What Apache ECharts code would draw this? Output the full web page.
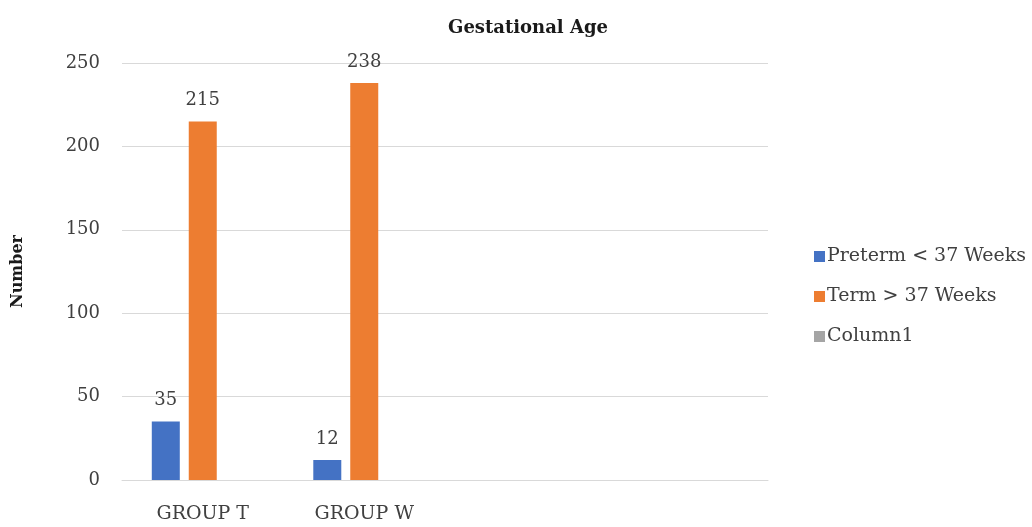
<!DOCTYPE html>
<html>
<head>
<meta charset="utf-8">
<script src="https://cdn.jsdelivr.net/npm/echarts@6/dist/echarts.min.js"></script>
<style>
  html, body { margin: 0; padding: 0; background: #fff; }
  #chart { width: 1032px; height: 527px; }
</style>
</head>
<body>
<div id="chart"></div>
<script>
// Gestational age counts per study group
const categories = ['GROUP T', 'GROUP W', '', ''];
const seriesNames = ['Preterm < 37 Weeks', 'Term > 37 Weeks', 'Column1'];
const pretermValues = [35, 12, null, null];
const termValues = [215, 238, null, null];
const column1Values = [null, null, null, null];
const yTicks = [0, 50, 100, 150, 200, 250];

const FONT = '"DejaVu Serif", "Liberation Serif", serif';
const TEXT = '#404040';
const colors = ['#4472C4', '#ED7D31', '#A5A5A5'];

const chart = echarts.init(document.getElementById('chart'));

const label = {
  show: true,
  position: 'top',
  distance: 12,
  color: TEXT,
  fontFamily: FONT,
  fontSize: 18
};

chart.setOption({
  animation: false,
  color: colors,
  title: {
    text: 'Gestational Age',
    left: 523,
    textAlign: 'center',
    top: 14,
    textStyle: { fontFamily: FONT, fontSize: 18, fontWeight: 'bold', color: '#1a1a1a' }
  },
  legend: {
    orient: 'vertical',
    left: 809,
    top: 242,
    icon: 'rect',
    itemWidth: 11,
    itemHeight: 11,
    itemGap: 21,
    textStyle: { fontFamily: FONT, fontSize: 19, color: TEXT, padding: [0, 0, 0, -3] },
    data: seriesNames
  },
  grid: { left: 122, right: 264, top: 63, bottom: 47, containLabel: false },
  xAxis: {
    type: 'category',
    data: categories,
    axisLine: { lineStyle: { color: '#D9D9D9', width: 1 } },
    axisTick: { show: false },
    axisLabel: { color: TEXT, fontFamily: FONT, fontSize: 19, margin: 25 }
  },
  yAxis: {
    type: 'value',
    min: yTicks[0],
    max: yTicks[yTicks.length - 1],
    interval: yTicks[1] - yTicks[0],
    name: 'Number',
    nameLocation: 'middle',
    nameGap: 96,
    nameTextStyle: { fontFamily: FONT, fontSize: 16, fontWeight: 'bold', color: '#1a1a1a' },
    axisLine: { show: false },
    axisTick: { show: false },
    axisLabel: { color: TEXT, fontFamily: FONT, fontSize: 18, margin: 22 },
    splitLine: { lineStyle: { color: '#D9D9D9', width: 1 } }
  },
  series: [
    { name: seriesNames[0], type: 'bar', data: pretermValues, barWidth: 28, barGap: '32%', label },
    { name: seriesNames[1], type: 'bar', data: termValues, barWidth: 28, barGap: '32%', label },
    { name: seriesNames[2], type: 'bar', data: column1Values, barWidth: 28, barGap: '32%', label }
  ]
});
</script>
</body>
</html>
